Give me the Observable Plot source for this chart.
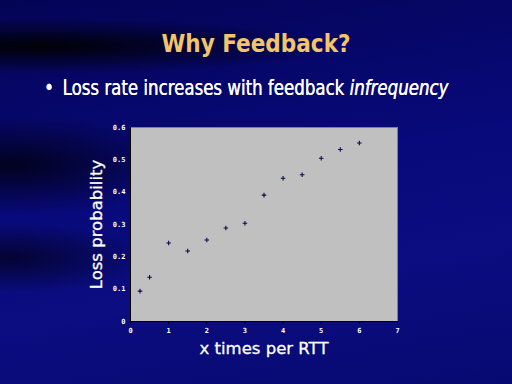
<!DOCTYPE html>
<html><head><meta charset="utf-8">
<script src="https://cdn.jsdelivr.net/npm/d3@7"></script>
<script src="https://cdn.jsdelivr.net/npm/@observablehq/plot@0.6"></script>
<style>
html,body{margin:0;padding:0;}
body{width:512px;height:384px;overflow:hidden;position:relative;
background:
 radial-gradient(ellipse 300px 28px at 40px 46px, rgba(0,0,0,0.95), rgba(0,0,0,0) 100%),
 radial-gradient(ellipse 180px 50px at 10px 165px, rgba(0,0,10,0.8), rgba(0,0,0,0) 100%),
 radial-gradient(ellipse 140px 35px at 10px 258px, rgba(0,0,10,0.65), rgba(0,0,0,0) 100%),
 linear-gradient(170deg, #040456 0%, #08097a 45%, #0b0d80 70%, #070972 100%);
font-family:"DejaVu Sans Condensed",sans-serif;}
#title{position:absolute;left:0;width:512px;top:30px;text-align:center;color:#f4c46c;
 font-family:"DejaVu Sans Condensed",sans-serif;font-weight:bold;font-size:24px;}
#bullet{position:absolute;left:44px;top:76px;color:#fff;font-size:21px;white-space:nowrap;
 transform:scaleX(0.88);transform-origin:left center;text-shadow:0.4px 0 0 #fff;}
#bullet span.b{display:inline-block;width:21px;}
#chart{position:absolute;left:0;top:110px;}
#chart svg{background:transparent;}
</style></head>
<body>
<div id="title">Why Feedback?</div>
<div id="bullet"><span class="b">•</span>Loss rate increases with feedback <i>infrequency</i></div>
<div id="chart"></div>
<script>
const xValues = [0.25, 0.5, 1, 1.5, 2, 2.5, 3, 3.5, 4, 4.5, 5, 5.5, 6];
const lossProb = [0.094, 0.137, 0.243, 0.218, 0.252, 0.289, 0.304, 0.391, 0.443, 0.454, 0.505, 0.532, 0.552];
const xTicks = [0, 1, 2, 3, 4, 5, 6, 7];
const yTicks = [0, 0.1, 0.2, 0.3, 0.4, 0.5, 0.6];
const xLabel = "x times per RTT";
const yLabel = "Loss probability";

const data = xValues.map((x, i) => ({x, y: lossProb[i]}));
const tickFont = "DejaVu Sans Mono, monospace";

const plot = Plot.plot({
  width: 512, height: 274,
  marginLeft: 130, marginRight: 115, marginTop: 17, marginBottom: 63,
  style: {background: "transparent", color: "#fff", fontSize: "7px", fontFamily: tickFont, fontWeight: "bold"},
  x: {domain: [0, 7], ticks: xTicks, label: null},
  y: {domain: [0, 0.6], ticks: yTicks, label: null},
  marks: [
    Plot.frame({fill: "#c0c0c0", stroke: "#808080"}),
    Plot.axisX({ticks: xTicks, tickSize: 3, tickPadding: 4, stroke: "#000", color: "#fff", tickFormat: d => String(d)}),
    Plot.axisY({ticks: yTicks, tickSize: 0, tickPadding: 5, tickFormat: d => d === 0 ? "0" : d.toFixed(1)}),
    Plot.ruleX([0], {stroke: "#000"}),
    Plot.ruleY([0], {stroke: "#000"}),
    Plot.dot(data, {x: "x", y: "y", symbol: "plus", r: 1.6, stroke: "#0a0a50", strokeWidth: 1.1}),
    Plot.text([yLabel], {frameAnchor: "left", textAnchor: "middle", dx: -34, rotate: -90, fill: "#fff", fontSize: 16.5,
      fontWeight: "normal", fontFamily: "DejaVu Sans, sans-serif", stroke: "#fff", strokeWidth: 0.3, text: d => d}),
    Plot.text([xLabel], {frameAnchor: "bottom", dy: 32, fill: "#fff", fontSize: 16.5, fontWeight: "normal",
      fontFamily: "DejaVu Sans, sans-serif", stroke: "#fff", strokeWidth: 0.3, text: d => d})
  ]
});
document.getElementById("chart").appendChild(plot);
</script>
</body></html>
